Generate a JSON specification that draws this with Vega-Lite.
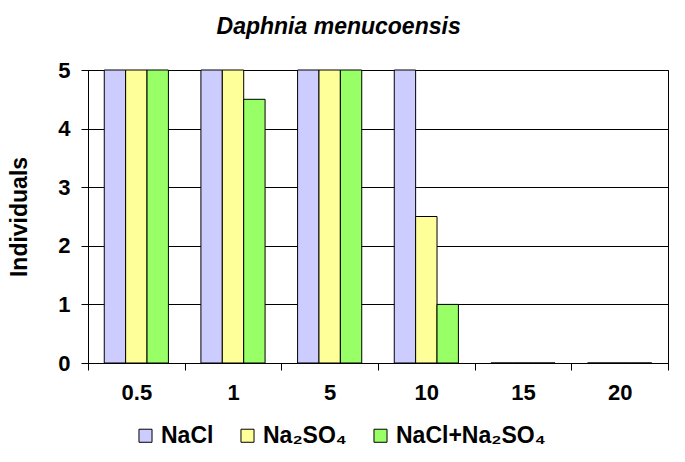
{
  "$schema": "https://vega.github.io/schema/vega-lite/v6.json",
  "autosize": "none",
  "width": 580,
  "height": 293,
  "padding": {"left": 88, "top": 70, "right": 17, "bottom": 99},
  "background": "white",
  "config": {
    "font": "Liberation Sans",
    "view": {"stroke": "black", "strokeWidth": 1}
  },
  "title": {
    "text": "Daphnia menucoensis",
    "font": "Liberation Sans",
    "fontSize": 23,
    "fontWeight": "bold",
    "fontStyle": "italic",
    "color": "black",
    "frame": "bounds",
    "anchor": "middle",
    "dx": 0,
    "offset": 20
  },
  "data": {
    "values": [
      {"conc": "0.5", "salt": "NaCl", "n": 5},
      {"conc": "0.5", "salt": "Na₂SO₄", "n": 5},
      {"conc": "0.5", "salt": "NaCl+Na₂SO₄", "n": 5},
      {"conc": "1", "salt": "NaCl", "n": 5},
      {"conc": "1", "salt": "Na₂SO₄", "n": 5},
      {"conc": "1", "salt": "NaCl+Na₂SO₄", "n": 4.5},
      {"conc": "5", "salt": "NaCl", "n": 5},
      {"conc": "5", "salt": "Na₂SO₄", "n": 5},
      {"conc": "5", "salt": "NaCl+Na₂SO₄", "n": 5},
      {"conc": "10", "salt": "NaCl", "n": 5},
      {"conc": "10", "salt": "Na₂SO₄", "n": 2.5},
      {"conc": "10", "salt": "NaCl+Na₂SO₄", "n": 1},
      {"conc": "15", "salt": "NaCl", "n": 0},
      {"conc": "15", "salt": "Na₂SO₄", "n": 0},
      {"conc": "15", "salt": "NaCl+Na₂SO₄", "n": 0},
      {"conc": "20", "salt": "NaCl", "n": 0},
      {"conc": "20", "salt": "Na₂SO₄", "n": 0},
      {"conc": "20", "salt": "NaCl+Na₂SO₄", "n": 0}
    ]
  },
  "mark": {"type": "bar", "stroke": "black", "strokeWidth": 1},
  "encoding": {
    "x": {
      "field": "conc",
      "type": "nominal",
      "sort": ["0.5", "1", "5", "10", "15", "20"],
      "scale": {"paddingInner": 0, "paddingOuter": 0},
      "axis": {
        "title": null,
        "labelAngle": 0,
        "labelFontSize": 22,
        "labelFontWeight": "bold",
        "labelColor": "black",
        "labelPadding": 12,
        "tickBand": "extent",
        "tickColor": "black",
        "tickSize": 7,
        "domainColor": "black",
        "grid": false
      }
    },
    "xOffset": {
      "field": "salt",
      "type": "nominal",
      "sort": ["NaCl", "Na₂SO₄", "NaCl+Na₂SO₄"],
      "scale": {"paddingInner": 0, "paddingOuter": 0.76}
    },
    "y": {
      "field": "n",
      "type": "quantitative",
      "scale": {"domain": [0, 5], "nice": false},
      "axis": {
        "title": "Individuals",
        "titleFontSize": 23,
        "titleFontWeight": "bold",
        "titleColor": "black",
        "titlePadding": 26,
        "values": [0, 1, 2, 3, 4, 5],
        "labelFontSize": 22,
        "labelFontWeight": "bold",
        "labelColor": "black",
        "labelPadding": 11,
        "tickColor": "black",
        "tickSize": 7,
        "domainColor": "black",
        "grid": true,
        "gridColor": "black",
        "gridOpacity": 1
      }
    },
    "color": {
      "field": "salt",
      "type": "nominal",
      "sort": ["NaCl", "Na₂SO₄", "NaCl+Na₂SO₄"],
      "scale": {
        "domain": ["NaCl", "Na₂SO₄", "NaCl+Na₂SO₄"],
        "range": ["#CCCCFF", "#FFFF99", "#99FF66"]
      },
      "legend": {
        "title": null,
        "orient": "none",
        "direction": "horizontal",
        "legendX": 46,
        "legendY": 354,
        "symbolType": "square",
        "symbolSize": 170,
        "symbolStrokeColor": "black",
        "symbolStrokeWidth": 1,
        "labelFontSize": 23,
        "labelFontWeight": "bold",
        "labelColor": "black",
        "labelOffset": 4,
        "columnPadding": 22,
        "labelLimit": 300
      }
    }
  }
}
